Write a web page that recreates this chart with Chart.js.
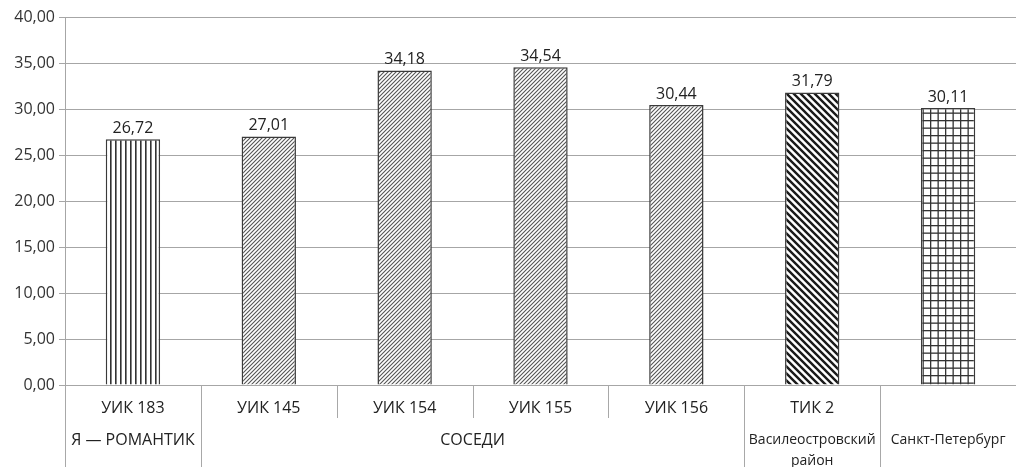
<!DOCTYPE html>
<html>
<head>
<meta charset="utf-8">
<script src="https://cdn.jsdelivr.net/npm/chart.js@4"></script>
<style>
  html, body { margin: 0; padding: 0; background: #fff; }
  #wrap { width: 1016px; height: 467px; }
</style>
</head>
<body>
<div id="wrap"><canvas id="turnoutChart" width="1016" height="467"></canvas></div>
<script>
// Turnout by polling station, %
const categories = ['УИК 183', 'УИК 145', 'УИК 154', 'УИК 155', 'УИК 156', 'ТИК 2', ''];
const values = [26.72, 27.01, 34.18, 34.54, 30.44, 31.79, 30.11];
const groupLabels = [['Я — РОМАНТИК'], ['СОСЕДИ'], ['Василеостровский', 'район'], ['Санкт-Петербург']];
const groupSizes = [1, 4, 1, 1];
const fillKinds = ['vertical', 'fine', 'fine', 'fine', 'fine', 'bold', 'grid'];

const FONT = '"Open Sans", "DejaVu Sans", sans-serif';
const fmt = v => v.toFixed(2).replace('.', ',');

// Hatch fills built on small tiles
function makePattern(kind) {
  const c = document.createElement('canvas');
  const g = c.getContext('2d');
  let s;
  if (kind === 'vertical') {
    s = 5; c.width = s; c.height = s;
    g.fillStyle = '#fff'; g.fillRect(0, 0, s, s);
    g.fillStyle = '#333'; g.fillRect(0, 0, 1.6, s);
  } else if (kind === 'fine') {
    s = 4; c.width = s; c.height = s;
    g.fillStyle = '#fff'; g.fillRect(0, 0, s, s);
    g.strokeStyle = '#555'; g.lineWidth = 1.1;
    g.beginPath();
    g.moveTo(0, s); g.lineTo(s, 0);
    g.moveTo(-1, 1); g.lineTo(1, -1);
    g.moveTo(s - 1, s + 1); g.lineTo(s + 1, s - 1);
    g.stroke();
  } else if (kind === 'bold') {
    s = 7; c.width = s; c.height = s;
    g.fillStyle = '#fff'; g.fillRect(0, 0, s, s);
    g.strokeStyle = '#1a1a1a'; g.lineWidth = 2.4;
    g.beginPath();
    g.moveTo(0, 0); g.lineTo(s, s);
    g.moveTo(-2, s - 2); g.lineTo(2, s + 2);
    g.moveTo(s - 2, -2); g.lineTo(s + 2, 2);
    g.stroke();
  } else {
    s = 7.5; c.width = 15; c.height = 15;
    g.fillStyle = '#fff'; g.fillRect(0, 0, 15, 15);
    g.fillStyle = '#333';
    g.fillRect(0, 0, 1.3, 15); g.fillRect(7.5, 0, 1.3, 15);
    g.fillRect(0, 0, 15, 1.3); g.fillRect(0, 7.5, 15, 1.3);
  }
  return g.createPattern(c, 'repeat');
}

// Values above each bar
const valueLabels = {
  id: 'valueLabels',
  afterDatasetsDraw(chart) {
    const { ctx } = chart;
    const meta = chart.getDatasetMeta(0);
    ctx.save();
    ctx.font = '16px ' + FONT;
    ctx.fillStyle = '#222';
    ctx.textAlign = 'center';
    ctx.textBaseline = 'bottom';
    meta.data.forEach((bar, i) => ctx.fillText(fmt(values[i]), bar.x, bar.y - 3));
    ctx.restore();
  }
};

// Two-row category table under the axis
const categoryTable = {
  id: 'categoryTable',
  afterDraw(chart) {
    const { ctx, chartArea, scales: { x } } = chart;
    const top = chartArea.bottom;
    const bottom = chart.height;
    const step = x.getPixelForValue(1) - x.getPixelForValue(0);
    const edge = i => x.getPixelForValue(i) - step / 2;

    const groupStarts = [0];
    groupSizes.forEach(n => groupStarts.push(groupStarts[groupStarts.length - 1] + n));

    ctx.save();
    ctx.strokeStyle = '#a8a8a8';
    ctx.lineWidth = 1;
    for (let i = 0; i < categories.length; i++) {
      const px = Math.round(edge(i)) + 0.5;
      ctx.beginPath();
      ctx.moveTo(px, top);
      ctx.lineTo(px, groupStarts.includes(i) ? bottom : top + 33);
      ctx.stroke();
    }

    ctx.fillStyle = '#222';
    ctx.textAlign = 'center';
    ctx.textBaseline = 'middle';
    ctx.font = '16px ' + FONT;
    categories.forEach((c, i) => ctx.fillText(c, x.getPixelForValue(i), top + 23));

    groupLabels.forEach((lines, g) => {
      const a = groupStarts[g];
      const b = groupStarts[g + 1];
      const cx = (edge(a) + edge(b)) / 2;
      ctx.font = (lines[0].length > 13 ? '14px ' : '16px ') + FONT;
      lines.forEach((t, k) => ctx.fillText(t, cx, top + 55 + k * 21));
    });
    ctx.restore();
  }
};

const ctx = document.getElementById('turnoutChart').getContext('2d');

const turnoutChart = new Chart(ctx, {
  type: 'bar',
  data: {
    labels: categories,
    datasets: [{
      data: values,
      backgroundColor: fillKinds.map(makePattern),
      borderColor: '#3a3a3a',
      borderWidth: 1.5,
      barPercentage: 0.4,
      categoryPercentage: 1
    }]
  },
  options: {
    responsive: false,
    animation: false,
    layout: { padding: { top: 17, left: 0, right: 0, bottom: 0 } },
    plugins: {
      legend: { display: false },
      tooltip: { enabled: false }
    },
    scales: {
      x: {
        grid: { display: false },
        border: { display: false },
        ticks: { display: false },
        afterFit: s => { s.height = 82; }
      },
      y: {
        min: 0,
        max: 40,
        ticks: {
          stepSize: 5,
          padding: 4,
          color: '#333',
          font: { family: FONT, size: 16 },
          callback: v => fmt(v)
        },
        grid: { color: '#a6a6a6', tickLength: 6 },
        border: { color: '#a6a6a6' },
        afterFit: s => { s.width = 65; }
      }
    }
  },
  plugins: [valueLabels, categoryTable]
});
</script>
</body>
</html>
